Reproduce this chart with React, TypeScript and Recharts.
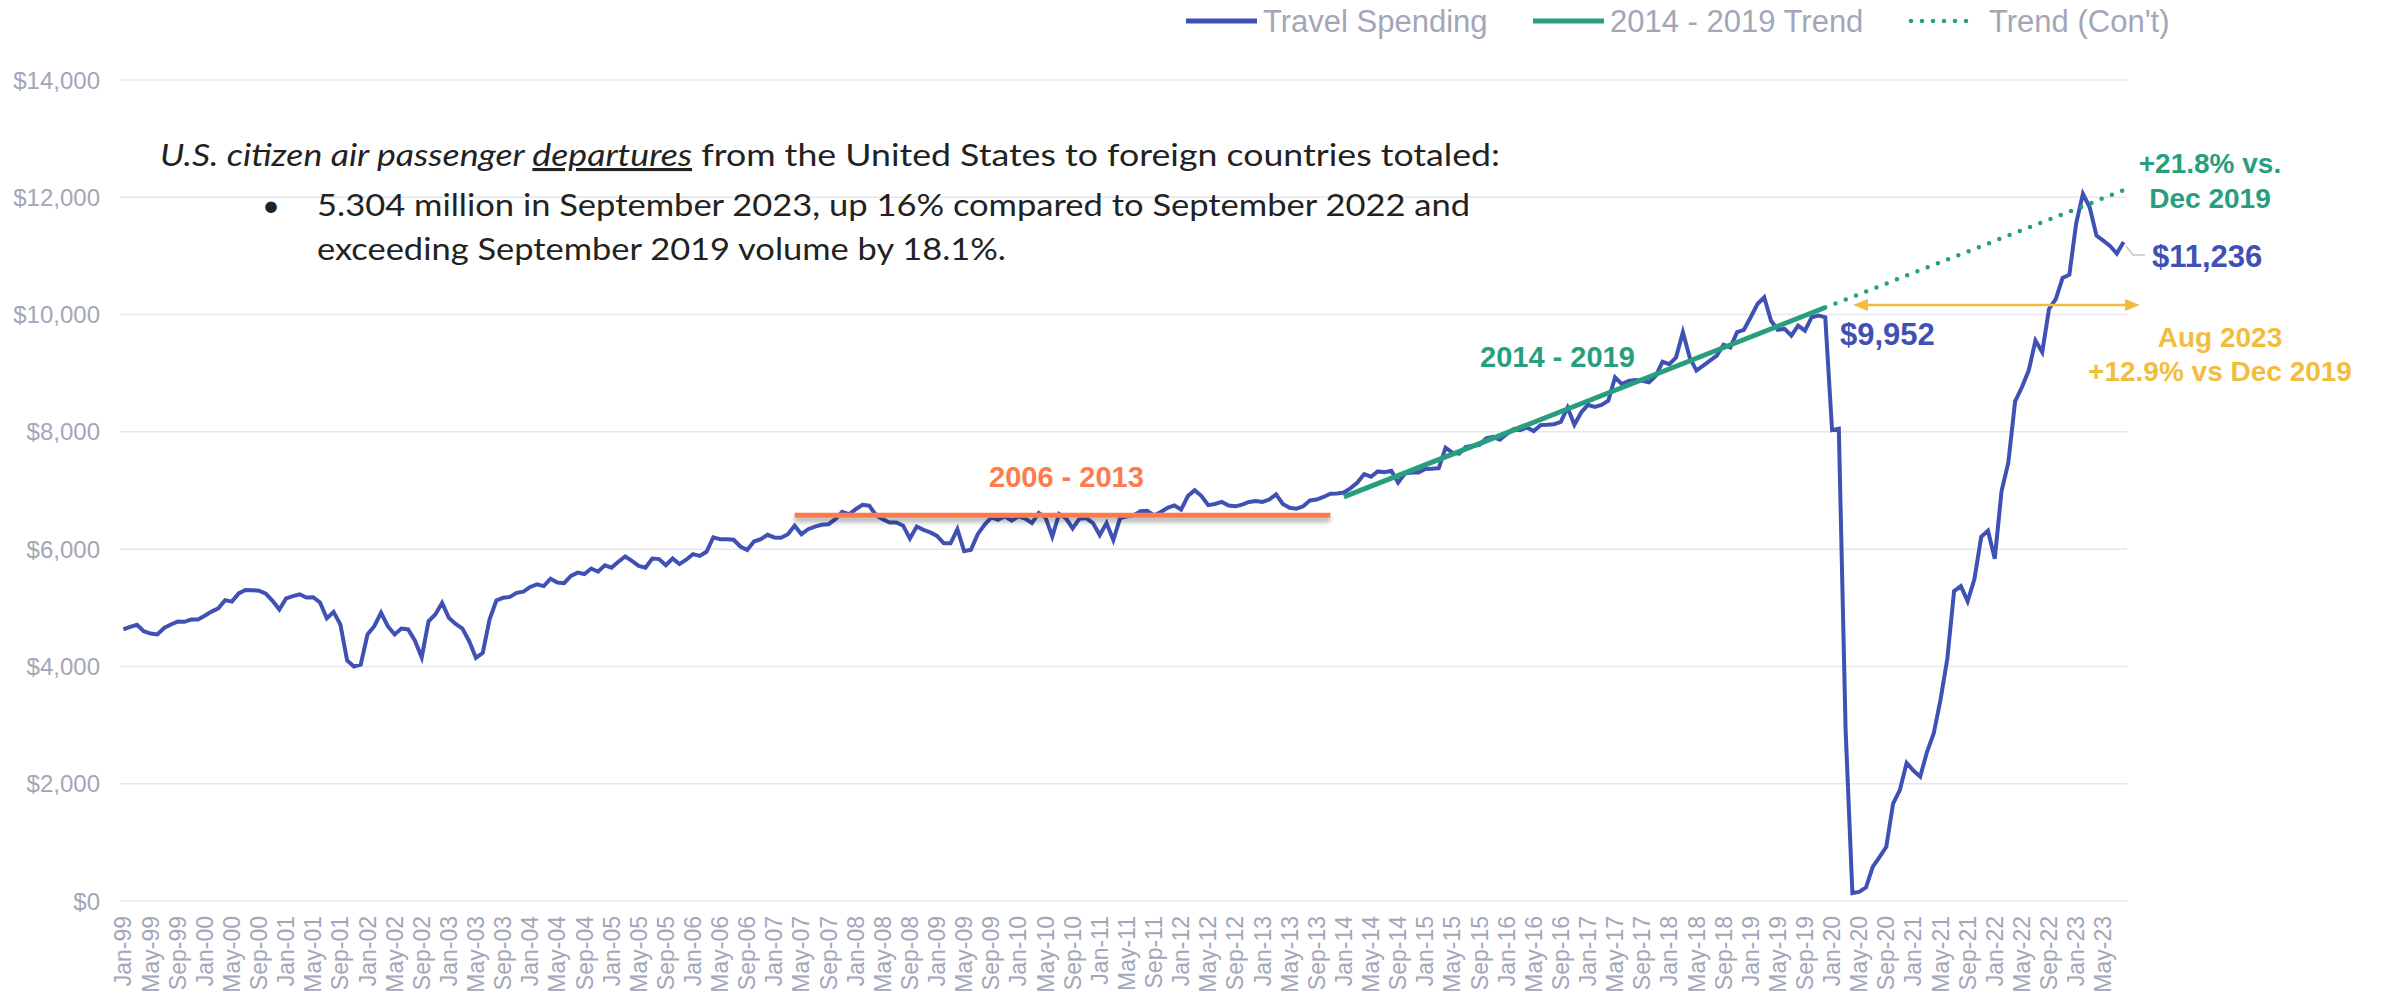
import React from 'react';
import { LineChart, Line, XAxis, YAxis, CartesianGrid } from 'recharts';

// monthly travel spending, Jan-99 .. Aug-23
const spending1999 = [4630, 4675, 4710, 4600, 4560, 4545, 4655, 4715, 4765, 4760, 4800, 4800];
const spending2000 = [4865, 4935, 4990, 5130, 5105, 5245, 5305, 5300, 5290, 5240, 5120, 4970];
const spending2001 = [5160, 5200, 5230, 5175, 5180, 5090, 4820, 4930, 4715, 4100, 4000, 4030];
const spending2002 = [4545, 4685, 4915, 4685, 4545, 4645, 4630, 4440, 4155, 4770, 4885, 5085];
const spending2003 = [4830, 4725, 4645, 4430, 4145, 4230, 4800, 5125, 5170, 5185, 5255, 5275];
const spending2004 = [5355, 5400, 5370, 5495, 5430, 5420, 5545, 5600, 5575, 5670, 5615, 5725];
const spending2005 = [5685, 5785, 5875, 5800, 5715, 5685, 5840, 5830, 5725, 5840, 5745, 5820];
const spending2006 = [5915, 5885, 5955, 6200, 6170, 6170, 6160, 6045, 5985, 6130, 6170, 6245];
const spending2007 = [6200, 6195, 6255, 6400, 6255, 6340, 6385, 6415, 6425, 6510, 6635, 6595];
const spending2008 = [6680, 6755, 6740, 6580, 6510, 6455, 6455, 6400, 6180, 6385, 6330, 6285];
const spending2009 = [6225, 6100, 6100, 6340, 5965, 5990, 6255, 6415, 6540, 6500, 6560, 6485];
const spending2010 = [6560, 6520, 6445, 6615, 6540, 6215, 6600, 6530, 6355, 6520, 6530, 6445];
const spending2011 = [6240, 6445, 6155, 6530, 6560, 6575, 6645, 6655, 6575, 6635, 6705, 6745];
const spending2012 = [6675, 6905, 7005, 6905, 6750, 6770, 6805, 6745, 6730, 6760, 6805, 6820];
const spending2013 = [6805, 6845, 6935, 6770, 6705, 6690, 6730, 6830, 6845, 6890, 6945, 6950];
const spending2014 = [6965, 7040, 7135, 7280, 7235, 7325, 7310, 7335, 7135, 7290, 7305, 7305];
const spending2015 = [7365, 7370, 7380, 7730, 7645, 7630, 7745, 7760, 7780, 7890, 7915, 7865];
const spending2016 = [7960, 8045, 8030, 8075, 8015, 8115, 8120, 8130, 8170, 8415, 8120, 8330];
const spending2017 = [8460, 8425, 8460, 8530, 8930, 8815, 8870, 8885, 8870, 8845, 8955, 9195];
const spending2018 = [9155, 9270, 9700, 9270, 9045, 9130, 9215, 9300, 9485, 9440, 9700, 9740];
const spending2019 = [9955, 10180, 10295, 9895, 9740, 9755, 9640, 9810, 9725, 9955, 9985, 9952];
const spending2020 = [8030, 8055, 2920, 135, 155, 230, 580, 750, 925, 1660, 1890, 2355];
const spending2021 = [2225, 2120, 2540, 2860, 3435, 4130, 5285, 5370, 5110, 5490, 6210, 6315];
const spending2022 = [5835, 6990, 7480, 8520, 8760, 9045, 9555, 9360, 10095, 10265, 10625, 10680];
const spending2023 = [11550, 12060, 11830, 11345, 11260, 11170, 11040, 11236];

const travelSpending = [
  ...spending1999, ...spending2000, ...spending2001, ...spending2002, ...spending2003,
  ...spending2004, ...spending2005, ...spending2006, ...spending2007, ...spending2008,
  ...spending2009, ...spending2010, ...spending2011, ...spending2012, ...spending2013,
  ...spending2014, ...spending2015, ...spending2016, ...spending2017, ...spending2018,
  ...spending2019, ...spending2020, ...spending2021, ...spending2022, ...spending2023,
];

const monthNames = ['Jan', 'Feb', 'Mar', 'Apr', 'May', 'Jun', 'Jul', 'Aug', 'Sep', 'Oct', 'Nov', 'Dec'];
const months: string[] = [];
for (let y = 1999; y <= 2023; y++) {
  for (const m of monthNames) months.push(`${m}-${String(y % 100).padStart(2, '0')}`);
}
const categories = months.slice(0, travelSpending.length);

// straight segments: only the end points are given
const flatLine = [{ month: 'Apr-07', value: 6580 }, { month: 'Nov-13', value: 6580 }];
const trendLine = [{ month: 'Jan-14', value: 6890 }, { month: 'Dec-19', value: 10120 }];
const trendCont = [{ month: 'Dec-19', value: 10120 }, { month: 'Aug-23', value: 12120 }];

const yTicks = [0, 2000, 4000, 6000, 8000, 10000, 12000, 14000];

const pick = (pts: { month: string; value: number }[], m: string) => {
  const p = pts.find((q) => q.month === m);
  return p ? p.value : null;
};

const data = categories.map((month, i) => ({
  month,
  spending: travelSpending[i],
  flat: pick(flatLine, month),
  trend: pick(trendLine, month),
  cont: pick(trendCont, month),
}));

const BLUE = '#3F51B5';
const TEAL = '#279F7E';
const ORANGE = '#FF7A4C';
const GOLD = '#F2BD3D';
const GRAY = '#A3A6B8';
const SANS = '"Liberation Sans", Arial, sans-serif';
const BODY = 'Lato, "Open Sans", sans-serif';

const MonthTick = ({ x, payload }: any) => (
  <text
    transform={`translate(${x},916) rotate(-90)`}
    textAnchor="end"
    dy="0.35em"
    fill={GRAY}
    fontSize={23}
    fontFamily={SANS}
  >
    {payload.value}
  </text>
);

const Overlay = () => (
  <svg
    width={2389}
    height={997}
    style={{ position: 'absolute', left: 0, top: 0, pointerEvents: 'none' }}
  >
    {/* legend */}
    <g fontFamily={SANS} fontSize={31} fill={GRAY}>
      <line x1={1186} y1={21} x2={1257} y2={21} stroke={BLUE} strokeWidth={5} />
      <text x={1263} y={32}>Travel Spending</text>
      <line x1={1533} y1={21} x2={1604} y2={21} stroke={TEAL} strokeWidth={5} />
      <text x={1610} y={32}>2014 - 2019 Trend</text>
      <line x1={1911} y1={21} x2={1976} y2={21} stroke={TEAL} strokeWidth={4.5} strokeDasharray="0 11" strokeLinecap="round" />
      <text x={1989} y={32}>Trend (Con't)</text>
    </g>

    {/* note */}
    <g fontFamily={BODY} fontSize={31} fill="#222">
      <text x={160} y={166} textLength={1340} lengthAdjust="spacingAndGlyphs">
        <tspan fontStyle="italic">{'U.S. citizen air passenger '}</tspan>
        <tspan fontStyle="italic" style={{ textDecoration: 'underline' }}>{'departures'}</tspan>
        <tspan>{' from the United States to foreign countries totaled:'}</tspan>
      </text>
      <text x={262} y={216}>•</text>
      <text x={317} y={216} textLength={1153} lengthAdjust="spacingAndGlyphs">
        5.304 million in September 2023, up 16% compared to September 2022 and
      </text>
      <text x={317} y={260} textLength={689} lengthAdjust="spacingAndGlyphs">
        exceeding September 2019 volume by 18.1%.
      </text>
    </g>

    {/* period labels */}
    <g fontFamily={SANS} fontWeight="bold" fontSize={29}>
      <text x={989} y={487} fill={ORANGE}>2006 - 2013</text>
      <text x={1480} y={367} fill={TEAL}>2014 - 2019</text>
    </g>

    {/* right side call-outs */}
    <g fontFamily={SANS} fontWeight="bold">
      <text x={1840} y={345} fontSize={31} fill={BLUE}>$9,952</text>
      <polyline points="2126,246 2133,255 2145,255" fill="none" stroke="#C4C4CC" strokeWidth={1.5} />
      <text x={2152} y={267} fontSize={31} fill={BLUE}>$11,236</text>
      <text x={2210} y={173} fontSize={28} fill={TEAL} textAnchor="middle">+21.8% vs.</text>
      <text x={2210} y={208} fontSize={28} fill={TEAL} textAnchor="middle">Dec 2019</text>
      <text x={2220} y={347} fontSize={28} fill={GOLD} textAnchor="middle">Aug 2023</text>
      <text x={2220} y={381} fontSize={28} fill={GOLD} textAnchor="middle">+12.9% vs Dec 2019</text>
    </g>

    {/* gold double arrow */}
    <line x1={1866} y1={305} x2={2127} y2={305} stroke={GOLD} strokeWidth={2.5} />
    <polygon points="1853,305 1868,299 1868,311" fill={GOLD} />
    <polygon points="2140,305 2125,299 2125,311" fill={GOLD} />
  </svg>
);

export default function App() {
  return (
    <div style={{ position: 'absolute', left: 0, top: 0, width: 2389, height: 997, background: '#fff' }}>
      <LineChart width={2389} height={997} data={data} margin={{ top: 80, right: 262, bottom: 0, left: 0 }}>
        <defs>
          <filter id="flatShadow" filterUnits="userSpaceOnUse" x={0} y={0} width={2389} height={997}>
            <feDropShadow dx={0} dy={4} stdDeviation={2.5} floodColor="#000" floodOpacity={0.35} />
          </filter>
        </defs>
        <CartesianGrid vertical={false} stroke="#E6E6EC" strokeWidth={1.5} />
        <XAxis
          dataKey="month"
          interval={3}
          height={96}
          axisLine={false}
          tickLine={false}
          padding={{ left: 3.4, right: 3.4 }}
          tick={<MonthTick />}
        />
        <YAxis
          domain={[0, 14000]}
          ticks={yTicks}
          width={120}
          axisLine={false}
          tickLine={false}
          tickSize={0}
          tickMargin={20}
          tickFormatter={(v: number) => `$${v.toLocaleString('en-US')}`}
          tick={{ fill: GRAY, fontSize: 24, fontFamily: SANS }}
        />
        <Line
          dataKey="spending"
          stroke={BLUE}
          strokeWidth={4}
          dot={false}
          activeDot={false}
          type="linear"
          isAnimationActive={false}
        />
        <Line
          dataKey="flat"
          stroke={ORANGE}
          strokeWidth={5}
          dot={false}
          activeDot={false}
          connectNulls
          filter="url(#flatShadow)"
          isAnimationActive={false}
        />
        <Line
          dataKey="trend"
          stroke={TEAL}
          strokeWidth={5}
          dot={false}
          activeDot={false}
          connectNulls
          isAnimationActive={false}
        />
        <Line
          dataKey="cont"
          stroke={TEAL}
          strokeWidth={4.5}
          strokeDasharray="0 11"
          strokeLinecap="round"
          dot={false}
          activeDot={false}
          connectNulls
          isAnimationActive={false}
        />
      </LineChart>
      <Overlay />
    </div>
  );
}
